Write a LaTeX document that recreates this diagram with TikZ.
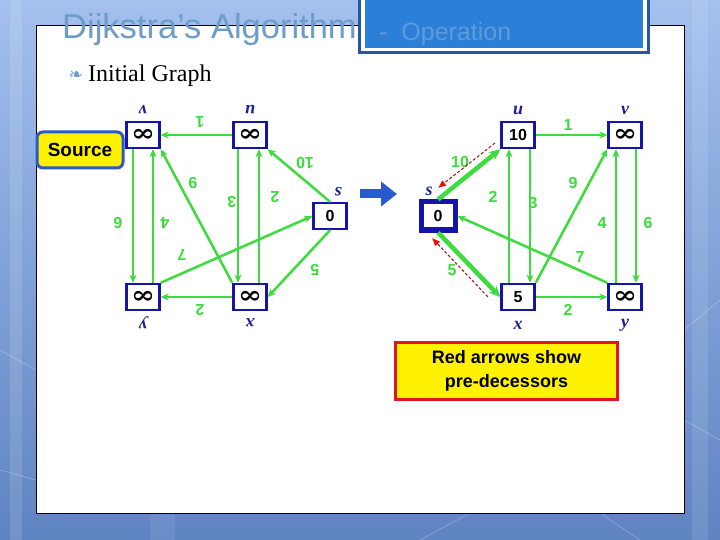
\documentclass[tikz,border=0pt]{standalone}
\usepackage{fontspec}
\usepackage{amsmath,amssymb}
\setmainfont{Liberation Serif}
\setsansfont{Liberation Sans}
\newfontfamily\bulletfont{DejaVu Sans}
\newfontfamily\infinityfont{DejaVu Serif}
\usetikzlibrary{arrows.meta, positioning, calc}
\definecolor{edgecol}{HTML}{3CDC3C}
\definecolor{boxcol}{HTML}{1414AA}
\definecolor{namecol}{HTML}{1E1E96}
\definecolor{titlecol}{HTML}{6E9CC8}
\definecolor{opcol}{HTML}{5E9ADE}
\definecolor{slidetop}{HTML}{A3C0EE}
\definecolor{slidebot}{HTML}{5F84C2}
\definecolor{barcol}{HTML}{2C7FD6}
\definecolor{barrim}{HTML}{2457A8}
\definecolor{predcol}{HTML}{A01010}
\definecolor{notered}{HTML}{E4141E}
\definecolor{bigarrow}{HTML}{2A5AD0}
\definecolor{srcrim}{HTML}{2A5AC8}
\newcommand{\infmark}{\scalebox{1.6}[1.35]{\infinityfont\bfseries\fontsize{18}{18}\selectfont ∞}}

\begin{document}
\begin{tikzpicture}[x=1pt, y=-1pt,
  vbox/.style={draw=boxcol, line width=2.5pt, fill=white, minimum width=33pt,
               minimum height=26pt, inner sep=0pt, font=\sffamily\bfseries\fontsize{16}{16}\selectfont},
  vname/.style={font=\bfseries\itshape\fontsize{18}{18}\selectfont, text=namecol, inner sep=0pt},
  wt/.style={font=\sffamily\bfseries\fontsize{16}{16}\selectfont, text=edgecol, inner sep=0pt},
  upside/.style={rotate=180},
  arr/.style={-{Stealth[length=8pt, width=7pt]}, line width=2.5pt, edgecol},
  fat/.style={-{Stealth[length=11pt, width=10pt]}, line width=4.5pt},
  pred/.style={densely dashed, predcol, line width=1pt, -{Latex[length=8pt, width=7pt, color=red]}},
  note/.style={font=\sffamily\bfseries\fontsize{18}{24}\selectfont, fill=yellow, align=center}
]
\useasboundingbox (0,0) rectangle (720,540);
% slide
\shade[top color=slidetop, bottom color=slidebot] (0,0) rectangle (720,540);
\fill[white, opacity=.12] (10,0) rectangle (22,540);
\fill[white, opacity=.10] (692,0) rectangle (708,540);
\fill[white, opacity=.08] (150,513) rectangle (175,540);
\draw[white, opacity=.3, line width=.6pt] (0,350) -- (36,370) (0,470) -- (36,480)
  (684,330) -- (720,300) (684,420) -- (720,440) (420,540) -- (470,513) (600,513) -- (640,540);
\draw[black, line width=1pt, fill=white] (36,26) rectangle (684,513);
\fill[barrim] (358,0) rectangle (650,54);
\fill[white] (361,0) rectangle (647,51);
\fill[barcol] (365,0) rectangle (643,48);
\node[anchor=base west, inner sep=0pt, font=\sffamily\fontsize{34.5}{34.5}\selectfont, text=titlecol]
  (title) at (62,39) {Dijkstra’s Algorithm};
\node[anchor=base west, inner sep=0pt, font=\sffamily\fontsize{25}{25}\selectfont, text=opcol]
  (op) at (379,41) {-~~Operation};
\node[anchor=base, inner sep=0pt, font=\bulletfont\fontsize{17}{17}\selectfont, text=titlecol]
  (bullet) at (76,81) {❧};
\node[anchor=base west, inner sep=0pt, font=\fontsize{24}{24}\selectfont] (sub) at (88,82) {Initial Graph};

% left graph, drawn upside down
\node[vbox] (lv) at (143,135) {\infmark};
\node[vbox] (lu) at (250,135) {\infmark};
\node[vbox] (ls) at (330,216) {0};
\node[vbox] (ly) at (143,297) {\infmark};
\node[vbox] (lx) at (250,297) {\infmark};
\node[vname, upside] (lvn) at (143,110) {v};
\node[vname, upside] (lun) at (250,110) {u};
\node[vname, upside] (lsn) at (338,192) {s};
\node[vname, upside] (lyn) at (143,323) {y};
\node[vname, upside] (lxn) at (250,323) {x};
\draw[arr] (lu) -- (lv);
\draw[arr] ([xshift=-10pt]lv.south) -- ([xshift=-10pt]ly.north);
\draw[arr] ([xshift=10pt]ly.north) -- ([xshift=10pt]lv.south);
\draw[arr] (lx.north west) -- (lv.south east);
\draw[arr] ([xshift=-12pt]lu.south) -- ([xshift=-12pt]lx.north);
\draw[arr] ([xshift=9pt]lx.north) -- ([xshift=9pt]lu.south);
\draw[arr] (ls.north) -- (lu.south east);
\draw[arr] (ly.north east) -- (ls.west);
\draw[arr] (ls.south) -- (lx.east);
\draw[arr] (lx) -- (ly);
\node[wt, upside] (lw1) at (200,122) {1};
\node[wt, upside] (lw2) at (118,223) {6};
\node[wt, upside] (lw3) at (165,223) {4};
\node[wt, upside] (lw4) at (193,183) {9};
\node[wt, upside] (lw5) at (232,202) {3};
\node[wt, upside] (lw6) at (275,197) {2};
\node[wt, upside] (lw7) at (305,163) {10};
\node[wt, upside] (lw8) at (182,255) {7};
\node[wt, upside] (lw9) at (315,270) {5};
\node[wt, upside] (lw10) at (200,310) {2};
\node[draw=srcrim, line width=3pt, rounded corners=6pt, fill=yellow, minimum width=86pt,
      minimum height=36pt, font=\sffamily\bfseries\fontsize{19}{19}\selectfont] (src) at (80,150) {Source};

% step arrow
\coordinate (go1) at (360,194);
\coordinate (go2) at (397,194);
\draw[line width=9pt, bigarrow, -{Triangle[length=16pt, width=24pt]}] (go1) -- (go2);

% right graph
\node[vbox, line width=5pt, minimum width=34pt, minimum height=28pt] (rs) at (438,216) {0};
\node[vbox] (ru) at (518,135) {10};
\node[vbox] (rv) at (625,135) {\infmark};
\node[vbox] (rx) at (518,297) {5};
\node[vbox] (ry) at (625,297) {\infmark};
\node[vname] (rsn) at (429,191) {s};
\node[vname] (run) at (518,110) {u};
\node[vname] (rvn) at (625,110) {v};
\node[vname] (rxn) at (518,325) {x};
\node[vname] (ryn) at (625,325) {y};
\draw[arr] (ru) -- (rv);
\draw[arr] ([xshift=12pt]ru.south) -- ([xshift=12pt]rx.north);
\draw[arr] ([xshift=-9pt]rx.north) -- ([xshift=-9pt]ru.south);
\draw[arr] (rx.north east) -- (rv.south west);
\draw[arr] ([xshift=11pt]rv.south) -- ([xshift=11pt]ry.north);
\draw[arr] ([xshift=-9pt]ry.north) -- ([xshift=-9pt]rv.south);
\draw[arr] (ry.north west) -- (rs.east);
\draw[arr] (rx) -- (ry);
\draw[arr, fat] (rs.north) -- (ru.south west);
\draw[arr, fat] (rs.south) -- (rx.west);
\node[wt] (rw1) at (568,125) {1};
\node[wt] (rw2) at (533,203) {3};
\node[wt] (rw3) at (493,197) {2};
\node[wt] (rw4) at (573,183) {9};
\node[wt] (rw5) at (648,223) {6};
\node[wt] (rw6) at (602,223) {4};
\node[wt] (rw7) at (580,257) {7};
\node[wt] (rw8) at (568,310) {2};
\node[wt] (rw9) at (460,162) {10};
\node[wt] (rw10) at (452,270) {5};
% predecessors
\coordinate (pu) at (495,143);
\coordinate (pus) at (438,188);
\coordinate (px) at (488,297);
\coordinate (pxs) at (432,238);
\draw[pred] (pu) -- (pus);
\draw[pred] (px) -- (pxs);

\node[note, draw=notered, line width=3.5pt, minimum width=222pt, minimum height=57pt]
  (remark) at (506.5,371) {Red arrows show\\pre-decessors};
\end{tikzpicture}
\end{document}
